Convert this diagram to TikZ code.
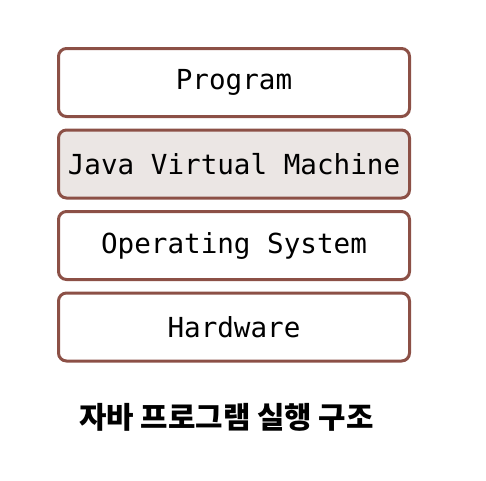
\documentclass[tikz,border=0pt]{standalone}
\usepackage{fontspec}
\setmonofont{DejaVu Sans Mono}
\newfontfamily\kofont{Noto Sans CJK KR}
\usetikzlibrary{positioning}

\definecolor{camada}{RGB}{140,80,70}
\definecolor{jvmfill}{RGB}{235,230,228}

\begin{document}
\begin{tikzpicture}[x=1pt, y=-1pt,
    camadabox/.style={draw=camada, line width=3pt, rounded corners=8pt, outer sep=0pt,
        minimum width=351pt, minimum height=68pt, font=\ttfamily\fontsize{27.6}{30}\selectfont},
    node distance=13.5pt]
    \useasboundingbox (0,0) rectangle (486,480);

    % camadas
    \node[camadabox] (program) at (234,82.5) {Program};
    \node[camadabox, fill=jvmfill, below=of program] (jvm) {Java Virtual Machine};
    \node[camadabox, below=of jvm] (os) {Operating System};
    \node[camadabox, below=of os] (hardware) {Hardware};

    % legenda
    \node[font=\kofont\bfseries\fontsize{29.8}{32}\selectfont] (legenda) at (226.5,417) {자바 프로그램 실행 구조};
\end{tikzpicture}
\end{document}
